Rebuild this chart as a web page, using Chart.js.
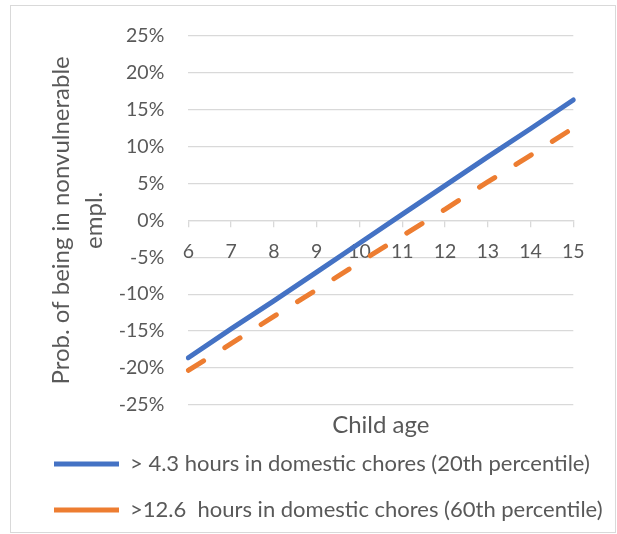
<!DOCTYPE html>
<html lang="en">
<head>
    <meta charset="UTF-8">
    <title>Child age chart</title>
    <script src="https://cdn.jsdelivr.net/npm/chart.js"></script>
    <style>
        body { margin: 0; background: #fff; }
        #wrap { position: relative; width: 617px; height: 534px; }
        #frame {
            position: absolute; left: 10px; top: 5px;
            width: 604px; height: 526px;
            border: 1px solid #d9d9d9;
            pointer-events: none;
        }
    </style>
</head>
<body>
<div id="wrap">
    <canvas id="ageChart" width="617" height="534"></canvas>
    <div id="frame"></div>
</div>
<script>
    // values, in percent
    const ages = ['6', '7', '8', '9', '10', '11', '12', '13', '14', '15'];
    const chores20th = [-18.6, -14.7, -10.9, -7.0, -3.1, 0.8, 4.7, 8.6, 12.4, 16.3];
    const chores60th = [-20.3, -16.7, -13.0, -9.4, -5.7, -2.1, 1.5, 5.2, 8.8, 12.5];
    const seriesNames = [
        '> 4.3 hours in domestic chores (20th percentile)',
        '>12.6  hours in domestic chores (60th percentile)'
    ];
    const yTitle = ['Prob. of being in nonvulnerable', 'empl.'];
    const xTitle = 'Child age';

    const textColor = '#595959';
    const gridColor = '#d9d9d9';
    Chart.defaults.font.family = 'Lato, "Open Sans", sans-serif';
    Chart.defaults.color = textColor;

    // empty axis used only to keep room on the right of the plot
    const spacerAxis = {
        type: 'linear',
        grid: { display: false, drawTicks: false },
        border: { display: false },
        ticks: { display: false }
    };

    const ctx = document.getElementById('ageChart').getContext('2d');
    const ageChart = new Chart(ctx, {
        type: 'line',
        data: {
            labels: ages,
            datasets: [{
                label: seriesNames[0],
                data: chores20th,
                borderColor: '#4472C4',
                backgroundColor: '#4472C4',
                borderWidth: 5,
                borderCapStyle: 'round',
                pointRadius: 0,
                tension: 0
            }, {
                label: seriesNames[1],
                data: chores60th,
                borderColor: '#ED7D31',
                backgroundColor: '#ED7D31',
                borderWidth: 5,
                borderDash: [18, 25],
                borderCapStyle: 'round',
                pointRadius: 0,
                tension: 0
            }]
        },
        options: {
            responsive: false,
            animation: false,
            layout: {
                padding: { left: 30, right: 3, top: 34, bottom: 3 }
            },
            scales: {
                x: {
                    type: 'category',
                    position: { y: 0 },
                    grid: {
                        drawOnChartArea: false,
                        drawTicks: true,
                        tickLength: 6,
                        color: gridColor,
                        lineWidth: 1.3
                    },
                    border: { display: true, color: gridColor, width: 1.3 },
                    ticks: {
                        padding: 13.5,
                        maxRotation: 0,
                        autoSkip: false,
                        font: { size: 19.5 }
                    }
                },
                xTitleAxis: {
                    type: 'category',
                    position: 'bottom',
                    grid: { display: false, drawTicks: false },
                    border: { display: false },
                    ticks: { display: false },
                    title: {
                        display: true,
                        text: xTitle,
                        font: { size: 24 },
                        padding: { top: 0, bottom: -10.4 }
                    },
                    afterFit: function (scale) { scale.height = 24; }
                },
                y: {
                    min: -25,
                    max: 25,
                    grid: {
                        color: gridColor,
                        lineWidth: 1.3,
                        drawTicks: false
                    },
                    border: { display: false },
                    ticks: {
                        stepSize: 5,
                        padding: 24,
                        font: { size: 19.5 },
                        callback: function (v) { return v + '%'; }
                    },
                    title: {
                        display: true,
                        text: yTitle,
                        font: { size: 24, lineHeight: 1.375 },
                        padding: { top: 14.5, bottom: 0 }
                    },
                    afterFit: function (scale) { scale.width = 158.3; }
                },
                ySpacer: Object.assign({}, spacerAxis, {
                    position: 'right',
                    afterFit: function (scale) { scale.width = 40.7; }
                })
            },
            plugins: {
                legend: {
                    position: 'bottom',
                    align: 'start',
                    labels: {
                        usePointStyle: true,
                        pointStyle: 'line',
                        pointStyleWidth: 65,
                        padding: 24,
                        color: textColor,
                        font: { size: 22 }
                    }
                },
                tooltip: { enabled: false }
            }
        }
    });
</script>
</body>
</html>
